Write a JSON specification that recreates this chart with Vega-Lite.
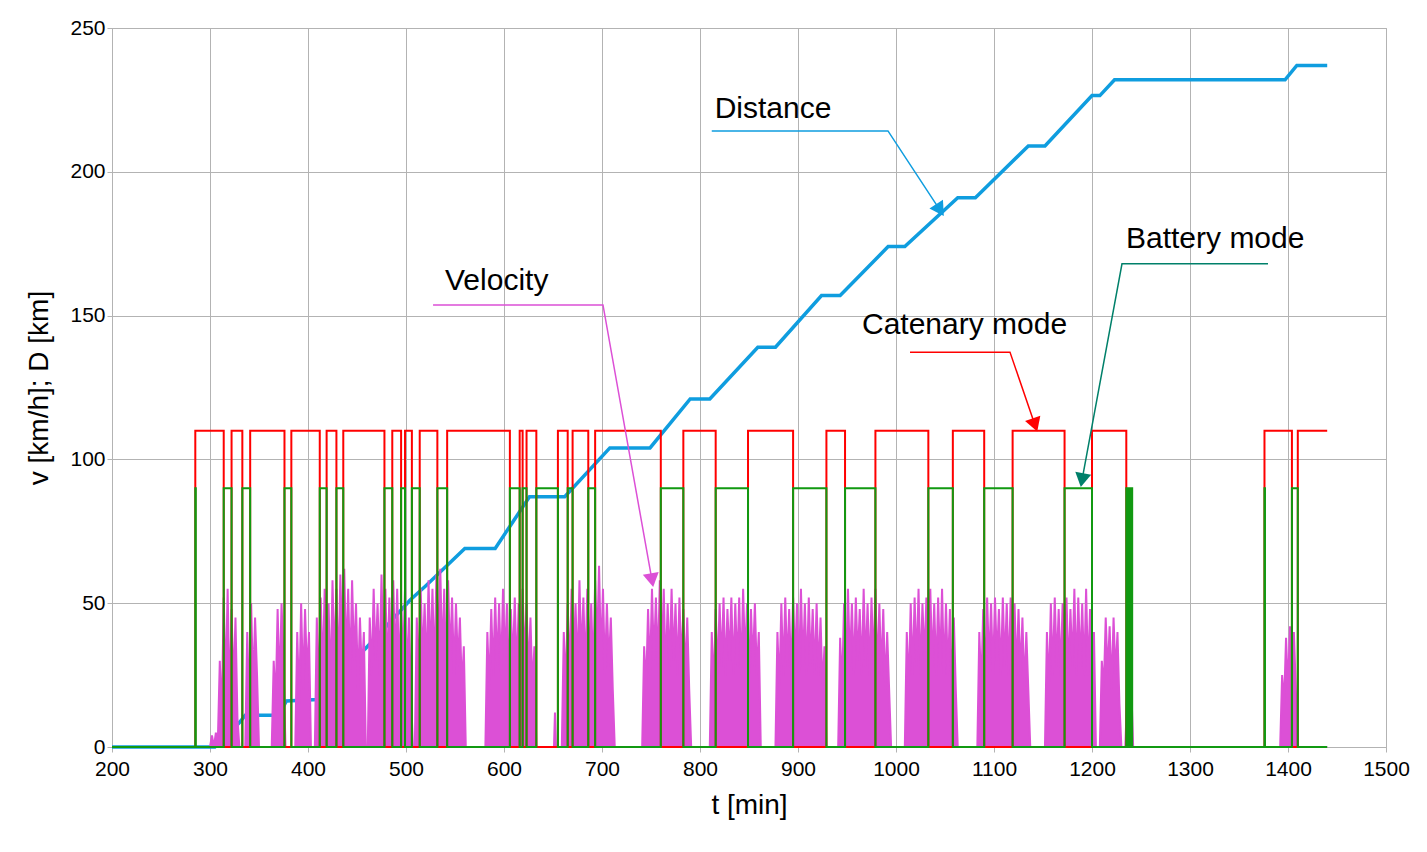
{
  "$schema": "https://vega.github.io/schema/vega-lite/v6.json",
  "width": 1274,
  "height": 719,
  "autosize": {"type": "none"},
  "padding": {"left": 112, "top": 28, "right": 41, "bottom": 105},
  "background": "white",
  "config": {
    "font": "Liberation Sans",
    "view": {"stroke": "#b3b3b3"},
    "axis": {"labelFontSize": 21, "titleFontSize": 28, "titleFontWeight": "normal", "labelColor": "black", "titleColor": "black", "gridColor": "#b3b3b3", "domainColor": "#b3b3b3", "tickColor": "#b3b3b3", "labelFlush": false, "format": "d"}
  },
  "datasets": {
    "distance": [
      {"t": 200, "d": 0}, {"t": 305, "d": 0}, {"t": 320, "d": 5}, {"t": 330, "d": 8.5}, {"t": 336, "d": 11}, {"t": 370, "d": 11},
      {"t": 378, "d": 16}, {"t": 410, "d": 16.5}, {"t": 420, "d": 20}, {"t": 440, "d": 27}, {"t": 458, "d": 34}, {"t": 480, "d": 42},
      {"t": 504, "d": 51}, {"t": 520, "d": 56}, {"t": 560, "d": 69}, {"t": 591, "d": 69}, {"t": 626, "d": 87}, {"t": 662, "d": 87},
      {"t": 708, "d": 104}, {"t": 749, "d": 104}, {"t": 790, "d": 121}, {"t": 810, "d": 121}, {"t": 859, "d": 139}, {"t": 877, "d": 139},
      {"t": 924, "d": 157}, {"t": 943, "d": 157}, {"t": 992, "d": 174}, {"t": 1009, "d": 174}, {"t": 1063, "d": 191}, {"t": 1081, "d": 191},
      {"t": 1135, "d": 209}, {"t": 1152, "d": 209}, {"t": 1200, "d": 226.5}, {"t": 1208, "d": 226.5}, {"t": 1223, "d": 232}, {"t": 1397, "d": 232},
      {"t": 1409, "d": 237}, {"t": 1440, "d": 237}
    ],
    "velocity": [
      {"t":200,"v":0},{"t":300,"v":0},{"t":302,"v":4},{"t":304,"v":0},{"t":306,"v":5},{"t":308,"v":2},{"t":310,"v":30},{"t":312,"v":10},{"t":314,"v":52},{"t":316,"v":20},{"t":318,"v":55},{"t":320,"v":15},{"t":322,"v":48},{"t":324,"v":20},{"t":326,"v":45},{"t":328,"v":10},{"t":330,"v":0},
      {"t":336,"v":0},{"t":338,"v":40},{"t":340,"v":15},{"t":342,"v":50},{"t":344,"v":20},{"t":346,"v":45},{"t":348,"v":25},{"t":350,"v":0},
      {"t":363,"v":0},{"t":365,"v":30},{"t":367,"v":15},{"t":369,"v":48},{"t":371,"v":20},{"t":373,"v":50},{"t":375,"v":30},{"t":377,"v":0},
      {"t":387,"v":0},{"t":389,"v":40},{"t":391,"v":15},{"t":393,"v":50},{"t":395,"v":20},{"t":397,"v":48},{"t":399,"v":25},{"t":401,"v":40},{"t":403,"v":0},
      {"t":407,"v":0},{"t":409,"v":45},{"t":411,"v":20},{"t":413,"v":52},{"t":415,"v":25},{"t":417,"v":55},{"t":419,"v":30},{"t":421,"v":50},{"t":423,"v":20},{"t":425,"v":58},{"t":427,"v":30},{"t":429,"v":55},{"t":431,"v":25},{"t":433,"v":60},{"t":435,"v":35},{"t":437,"v":62},{"t":439,"v":30},{"t":441,"v":55},{"t":443,"v":25},{"t":445,"v":58},{"t":447,"v":30},{"t":449,"v":50},{"t":451,"v":20},{"t":453,"v":45},{"t":455,"v":25},{"t":457,"v":40},{"t":459,"v":0},
      {"t":461,"v":0},{"t":463,"v":45},{"t":465,"v":25},{"t":467,"v":55},{"t":469,"v":30},{"t":471,"v":50},{"t":473,"v":25},{"t":475,"v":60},{"t":477,"v":30},{"t":479,"v":55},{"t":481,"v":25},{"t":483,"v":52},{"t":485,"v":30},{"t":487,"v":58},{"t":489,"v":28},{"t":491,"v":55},{"t":493,"v":25},{"t":495,"v":50},{"t":497,"v":30},{"t":499,"v":55},{"t":501,"v":25},{"t":503,"v":45},{"t":505,"v":20},{"t":507,"v":0},
      {"t":509,"v":0},{"t":511,"v":45},{"t":513,"v":25},{"t":515,"v":55},{"t":517,"v":30},{"t":519,"v":50},{"t":521,"v":25},{"t":523,"v":58},{"t":525,"v":30},{"t":527,"v":55},{"t":529,"v":25},{"t":531,"v":60},{"t":533,"v":35},{"t":535,"v":62},{"t":537,"v":30},{"t":539,"v":55},{"t":541,"v":25},{"t":543,"v":58},{"t":545,"v":30},{"t":547,"v":52},{"t":549,"v":25},{"t":551,"v":50},{"t":553,"v":28},{"t":555,"v":45},{"t":557,"v":20},{"t":559,"v":35},{"t":561,"v":0},
      {"t":581,"v":0},{"t":583,"v":40},{"t":585,"v":20},{"t":587,"v":48},{"t":589,"v":25},{"t":591,"v":52},{"t":593,"v":28},{"t":595,"v":50},{"t":597,"v":25},{"t":599,"v":55},{"t":601,"v":30},{"t":603,"v":50},{"t":605,"v":25},{"t":607,"v":48},{"t":609,"v":28},{"t":611,"v":52},{"t":613,"v":25},{"t":615,"v":50},{"t":617,"v":28},{"t":619,"v":55},{"t":621,"v":30},{"t":623,"v":50},{"t":625,"v":25},{"t":627,"v":45},{"t":629,"v":20},{"t":631,"v":35},{"t":633,"v":0},
      {"t":651,"v":0},{"t":652,"v":12},{"t":653,"v":0},
      {"t":659,"v":0},{"t":661,"v":40},{"t":663,"v":20},{"t":665,"v":50},{"t":667,"v":25},{"t":669,"v":55},{"t":671,"v":30},{"t":673,"v":50},{"t":675,"v":25},{"t":677,"v":58},{"t":679,"v":30},{"t":681,"v":52},{"t":683,"v":25},{"t":685,"v":55},{"t":687,"v":30},{"t":689,"v":50},{"t":691,"v":25},{"t":693,"v":58},{"t":695,"v":35},{"t":697,"v":63},{"t":699,"v":30},{"t":701,"v":55},{"t":703,"v":25},{"t":705,"v":50},{"t":707,"v":28},{"t":709,"v":45},{"t":711,"v":20},{"t":713,"v":0},
      {"t":741,"v":0},{"t":743,"v":35},{"t":745,"v":20},{"t":747,"v":48},{"t":749,"v":25},{"t":751,"v":55},{"t":753,"v":30},{"t":755,"v":52},{"t":757,"v":28},{"t":759,"v":58},{"t":761,"v":30},{"t":763,"v":55},{"t":765,"v":25},{"t":767,"v":50},{"t":769,"v":28},{"t":771,"v":55},{"t":773,"v":30},{"t":775,"v":50},{"t":777,"v":25},{"t":779,"v":52},{"t":781,"v":28},{"t":783,"v":48},{"t":785,"v":25},{"t":787,"v":45},{"t":789,"v":20},{"t":791,"v":0},
      {"t":810,"v":0},{"t":812,"v":40},{"t":814,"v":20},{"t":816,"v":48},{"t":818,"v":25},{"t":820,"v":50},{"t":822,"v":28},{"t":824,"v":52},{"t":826,"v":25},{"t":828,"v":48},{"t":830,"v":30},{"t":832,"v":52},{"t":834,"v":25},{"t":836,"v":50},{"t":838,"v":28},{"t":840,"v":52},{"t":842,"v":25},{"t":844,"v":55},{"t":846,"v":30},{"t":848,"v":50},{"t":850,"v":25},{"t":852,"v":48},{"t":854,"v":28},{"t":856,"v":50},{"t":858,"v":25},{"t":860,"v":40},{"t":862,"v":0},
      {"t":877,"v":0},{"t":879,"v":40},{"t":881,"v":20},{"t":883,"v":50},{"t":885,"v":25},{"t":887,"v":52},{"t":889,"v":28},{"t":891,"v":48},{"t":893,"v":25},{"t":895,"v":52},{"t":897,"v":30},{"t":899,"v":50},{"t":901,"v":25},{"t":903,"v":55},{"t":905,"v":28},{"t":907,"v":50},{"t":909,"v":25},{"t":911,"v":52},{"t":913,"v":28},{"t":915,"v":48},{"t":917,"v":25},{"t":919,"v":50},{"t":921,"v":25},{"t":923,"v":45},{"t":925,"v":20},{"t":927,"v":35},{"t":929,"v":0},
      {"t":941,"v":0},{"t":943,"v":38},{"t":945,"v":20},{"t":947,"v":50},{"t":949,"v":25},{"t":951,"v":55},{"t":953,"v":28},{"t":955,"v":50},{"t":957,"v":25},{"t":959,"v":52},{"t":961,"v":30},{"t":963,"v":48},{"t":965,"v":25},{"t":967,"v":55},{"t":969,"v":28},{"t":971,"v":50},{"t":973,"v":25},{"t":975,"v":52},{"t":977,"v":28},{"t":979,"v":55},{"t":981,"v":25},{"t":983,"v":50},{"t":985,"v":25},{"t":987,"v":48},{"t":989,"v":20},{"t":991,"v":40},{"t":993,"v":20},{"t":995,"v":0},
      {"t":1009,"v":0},{"t":1011,"v":40},{"t":1013,"v":20},{"t":1015,"v":50},{"t":1017,"v":25},{"t":1019,"v":52},{"t":1021,"v":28},{"t":1023,"v":55},{"t":1025,"v":25},{"t":1027,"v":50},{"t":1029,"v":30},{"t":1031,"v":52},{"t":1033,"v":25},{"t":1035,"v":55},{"t":1037,"v":28},{"t":1039,"v":50},{"t":1041,"v":25},{"t":1043,"v":52},{"t":1045,"v":28},{"t":1047,"v":55},{"t":1049,"v":25},{"t":1051,"v":50},{"t":1053,"v":25},{"t":1055,"v":48},{"t":1057,"v":20},{"t":1059,"v":45},{"t":1061,"v":20},{"t":1063,"v":0},
      {"t":1083,"v":0},{"t":1085,"v":40},{"t":1087,"v":20},{"t":1089,"v":48},{"t":1091,"v":25},{"t":1093,"v":52},{"t":1095,"v":28},{"t":1097,"v":50},{"t":1099,"v":25},{"t":1101,"v":52},{"t":1103,"v":30},{"t":1105,"v":48},{"t":1107,"v":25},{"t":1109,"v":52},{"t":1111,"v":28},{"t":1113,"v":50},{"t":1115,"v":25},{"t":1117,"v":52},{"t":1119,"v":28},{"t":1121,"v":50},{"t":1123,"v":25},{"t":1125,"v":48},{"t":1127,"v":25},{"t":1129,"v":45},{"t":1131,"v":20},{"t":1133,"v":40},{"t":1135,"v":20},{"t":1137,"v":0},
      {"t":1152,"v":0},{"t":1154,"v":40},{"t":1156,"v":20},{"t":1158,"v":50},{"t":1160,"v":25},{"t":1162,"v":52},{"t":1164,"v":28},{"t":1166,"v":48},{"t":1168,"v":25},{"t":1170,"v":50},{"t":1172,"v":30},{"t":1174,"v":52},{"t":1176,"v":25},{"t":1178,"v":48},{"t":1180,"v":28},{"t":1182,"v":55},{"t":1184,"v":25},{"t":1186,"v":52},{"t":1188,"v":28},{"t":1190,"v":50},{"t":1192,"v":25},{"t":1194,"v":55},{"t":1196,"v":25},{"t":1198,"v":48},{"t":1200,"v":20},{"t":1202,"v":40},{"t":1204,"v":0},
      {"t":1208,"v":0},{"t":1210,"v":30},{"t":1212,"v":20},{"t":1214,"v":45},{"t":1216,"v":25},{"t":1218,"v":42},{"t":1220,"v":20},{"t":1222,"v":45},{"t":1224,"v":25},{"t":1226,"v":40},{"t":1228,"v":15},{"t":1230,"v":0},
      {"t":1234,"v":0},{"t":1236,"v":20},{"t":1238,"v":10},{"t":1240,"v":22},{"t":1242,"v":0},
      {"t":1392,"v":0},{"t":1394,"v":25},{"t":1396,"v":15},{"t":1398,"v":38},{"t":1400,"v":20},{"t":1402,"v":42},{"t":1404,"v":25},{"t":1406,"v":40},{"t":1408,"v":20},{"t":1410,"v":0},{"t":1440,"v":0}
    ],
    "catenary": [
      {"t":200,"m":0},{"t":285,"m":110},{"t":314,"m":0},{"t":322,"m":110},{"t":333,"m":0},{"t":341,"m":110},{"t":376,"m":0},{"t":383,"m":110},{"t":412,"m":0},{"t":419,"m":110},{"t":429,"m":0},{"t":436,"m":110},{"t":478,"m":0},{"t":486,"m":110},{"t":495,"m":0},{"t":499,"m":110},{"t":506,"m":0},{"t":514,"m":110},{"t":532,"m":0},{"t":542,"m":110},{"t":606,"m":0},{"t":616,"m":110},{"t":619,"m":0},{"t":623,"m":110},{"t":633,"m":0},{"t":655,"m":110},{"t":665,"m":0},{"t":670,"m":110},{"t":686,"m":0},{"t":693,"m":110},{"t":760,"m":0},{"t":783,"m":110},{"t":816,"m":0},{"t":849,"m":110},{"t":895,"m":0},{"t":929,"m":110},{"t":948,"m":0},{"t":979,"m":110},{"t":1033,"m":0},{"t":1058,"m":110},{"t":1090,"m":0},{"t":1119,"m":110},{"t":1172,"m":0},{"t":1200,"m":110},{"t":1235,"m":0},{"t":1376,"m":110},{"t":1404,"m":0},{"t":1410,"m":110},{"t":1440,"m":110}
    ],
    "battery": [
      {"t":200,"m":0},{"t":285,"m":90},{"t":285.5,"m":0},{"t":314,"m":90},{"t":322,"m":0},{"t":333,"m":90},{"t":341,"m":0},{"t":376,"m":90},{"t":383,"m":0},{"t":412,"m":90},{"t":419,"m":0},{"t":429,"m":90},{"t":436,"m":0},{"t":478,"m":90},{"t":486,"m":0},{"t":495,"m":90},{"t":499,"m":0},{"t":506,"m":90},{"t":514,"m":0},{"t":532,"m":90},{"t":542,"m":0},{"t":606,"m":90},{"t":616,"m":0},{"t":619,"m":90},{"t":623,"m":0},{"t":633,"m":90},{"t":655,"m":0},{"t":665,"m":90},{"t":670,"m":0},{"t":686,"m":90},{"t":693,"m":0},{"t":760,"m":90},{"t":783,"m":0},{"t":816,"m":90},{"t":849,"m":0},{"t":895,"m":90},{"t":929,"m":0},{"t":948,"m":90},{"t":979,"m":0},{"t":1033,"m":90},{"t":1058,"m":0},{"t":1090,"m":90},{"t":1119,"m":0},{"t":1172,"m":90},{"t":1200,"m":0},{"t":1235,"m":90},{"t":1237,"m":0},{"t":1239,"m":90},{"t":1241,"m":0},{"t":1376,"m":90},{"t":1376.5,"m":0},{"t":1404,"m":90},{"t":1410,"m":0},{"t":1440,"m":0}
    ],
    "leaders": [
      {"k":"Distance","o":1,"t":812,"y":214.2},{"k":"Distance","o":2,"t":991.8,"y":214.2},{"k":"Distance","o":3,"t":1044.9,"y":186.7},
      {"k":"Velocity","o":1,"t":527.6,"y":153.7},{"k":"Velocity","o":2,"t":701,"y":153.7},{"k":"Velocity","o":3,"t":751,"y":58},
      {"k":"Catenary mode","o":1,"t":1014.3,"y":137.3},{"k":"Catenary mode","o":2,"t":1116.3,"y":137.3},{"k":"Catenary mode","o":3,"t":1141.8,"y":112},
      {"k":"Battery mode","o":1,"t":1379.6,"y":168},{"k":"Battery mode","o":2,"t":1230.6,"y":168},{"k":"Battery mode","o":3,"t":1189.8,"y":92.8}
    ],
    "arrows": [
      {"k":"Distance","t":1044.9,"y":186.7,"a":147},
      {"k":"Velocity","t":751,"y":58,"a":170},
      {"k":"Catenary mode","t":1141.8,"y":112,"a":161},
      {"k":"Battery mode","t":1189.8,"y":92.8,"a":190}
    ],
    "labels": [
      {"k":"Distance","t":815,"y":222},
      {"k":"Velocity","t":539.8,"y":162},
      {"k":"Catenary mode","t":965.3,"y":146.7},
      {"k":"Battery mode","t":1234.7,"y":176.6}
    ]
  },
  "encoding": {
    "x": {"type": "quantitative", "scale": {"domain": [200, 1500], "nice": false}, "axis": {"values": [200,300,400,500,600,700,800,900,1000,1100,1200,1300,1400,1500], "title": "t [min]", "titlePadding": 12, "labelPadding": 6}},
    "y": {"type": "quantitative", "scale": {"domain": [0, 250], "nice": false}, "axis": {"values": [0,50,100,150,200,250], "title": "v [km/h]; D [km]", "titlePadding": 16}}
  },
  "layer": [
    {"data": {"name": "distance"}, "mark": {"type": "line", "color": "#0f9ddf", "strokeWidth": 3.5}, "encoding": {"x": {"field": "t", "type": "quantitative"}, "y": {"field": "d", "type": "quantitative"}}},
    {"data": {"name": "velocity"}, "mark": {"type": "area", "color": "#dc50d6", "opacity": 1, "line": {"color": "#dc50d6", "strokeWidth": 2}}, "encoding": {"x": {"field": "t", "type": "quantitative"}, "y": {"field": "v", "type": "quantitative"}}},
    {"data": {"name": "catenary"}, "mark": {"type": "line", "color": "#ff0000", "strokeWidth": 2, "interpolate": "step-after"}, "encoding": {"x": {"field": "t", "type": "quantitative"}, "y": {"field": "m", "type": "quantitative"}}},
    {"data": {"name": "battery"}, "mark": {"type": "line", "color": "#119911", "strokeWidth": 2, "interpolate": "step-after"}, "encoding": {"x": {"field": "t", "type": "quantitative"}, "y": {"field": "m", "type": "quantitative"}}},
    {"data": {"name": "leaders"}, "mark": {"type": "line", "strokeWidth": 1.5}, "encoding": {"x": {"field": "t", "type": "quantitative"}, "y": {"field": "y", "type": "quantitative"}, "order": {"field": "o"}, "detail": {"field": "k"}, "color": {"field": "k", "type": "nominal", "legend": null, "scale": {"domain": ["Distance","Velocity","Catenary mode","Battery mode"], "range": ["#0f9ddf","#dc50d6","#ff0000","#00806a"]}}}},
    {"data": {"name": "arrows"}, "mark": {"type": "point", "shape": "triangle-up", "filled": true, "opacity": 1, "size": 260}, "encoding": {"x": {"field": "t", "type": "quantitative"}, "y": {"field": "y", "type": "quantitative"}, "angle": {"field": "a", "type": "quantitative", "scale": null}, "color": {"field": "k", "type": "nominal", "legend": null}}},
    {"data": {"name": "labels"}, "mark": {"type": "text", "align": "left", "baseline": "middle", "fontSize": 30, "color": "black", "font": "Liberation Sans"}, "encoding": {"x": {"field": "t", "type": "quantitative"}, "y": {"field": "y", "type": "quantitative"}, "text": {"field": "k"}}}
  ]
}
